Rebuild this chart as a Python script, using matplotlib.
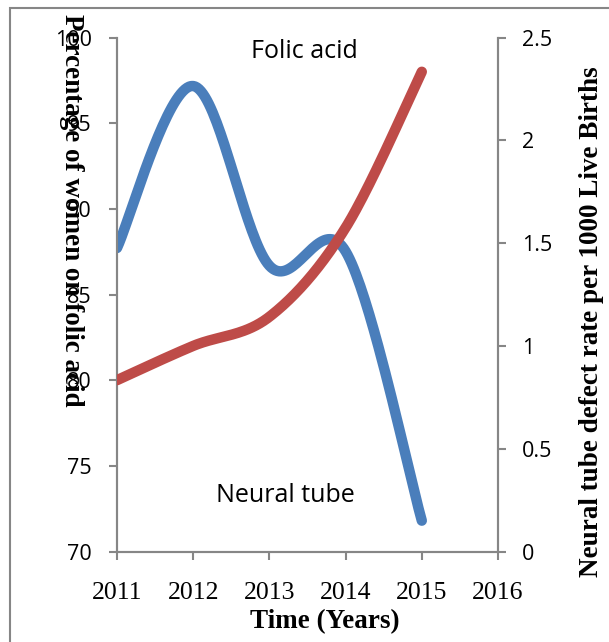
import numpy as np
import matplotlib
matplotlib.use("Agg")
import matplotlib.pyplot as plt
from matplotlib.patches import Rectangle

years = [2011, 2012, 2013, 2014, 2015]
folic_pct = [80, 82, 83.7, 88.9, 98]
ntd_rate = [1.476, 2.264, 1.39, 1.46, 0.15]
x_ticks = [2011, 2012, 2013, 2014, 2015, 2016]
left_ticks = [70, 75, 80, 85, 90, 95, 100]
right_ticks = [0, 0.5, 1, 1.5, 2, 2.5]


def smooth(xs, ys, n=40):
    """Excel-style smoothed line: cubic Bezier with Catmull-Rom control points."""
    xs = np.asarray(xs, float)
    ys = np.asarray(ys, float)
    P = np.column_stack([xs, ys])
    out = []
    for i in range(len(P) - 1):
        p0 = P[i - 1] if i > 0 else P[i]
        p1 = P[i]
        p2 = P[i + 1]
        p3 = P[i + 2] if i + 2 < len(P) else P[i + 1]
        c1 = p1 + (p2 - p0) / 6.0
        c2 = p2 - (p3 - p1) / 6.0
        t = np.linspace(0, 1, n)[:, None]
        seg = ((1 - t) ** 3) * p1 + 3 * ((1 - t) ** 2) * t * c1 + 3 * (1 - t) * t ** 2 * c2 + t ** 3 * p2
        out.append(seg if i == 0 else seg[1:])
    out = np.vstack(out)
    return out[:, 0], out[:, 1]


W, H = 609, 642
fig = plt.figure(figsize=(W / 100, H / 100), dpi=100)
L, R, T, B = 117, 498, 37.5, 551.5
ax = fig.add_axes([L / W, 1 - B / H, (R - L) / W, (B - T) / H])
ax2 = ax.twinx()

gray = "#868686"
blue = "#4A7EBB"
red = "#BE4B48"

sx, sy = smooth(years, folic_pct)
ax.plot(sx, sy, color=red, lw=7.5, solid_capstyle="round", zorder=3)
bx, by = smooth(years, ntd_rate)
ax2.plot(bx, by, color=blue, lw=7.5, solid_capstyle="round", zorder=4)

ax.set_xlim(2011, 2016)
ax.set_ylim(70, 100)
ax2.set_ylim(0, 2.5)
ax.set_xticks(x_ticks)
ax.set_xticklabels([str(v) for v in x_ticks], fontfamily="Liberation Serif", fontsize=18.5)
ax.set_yticks(left_ticks)
ax.set_yticklabels([str(v) for v in left_ticks], fontfamily="Open Sans", fontsize=15.5)
ax2.set_yticks(right_ticks)
ax2.set_yticklabels([("%g" % v) for v in right_ticks], fontfamily="Open Sans", fontsize=15.5)

for a in (ax, ax2):
    a.spines["top"].set_visible(False)
    for s in ("left", "right", "bottom"):
        a.spines[s].set_color(gray)
        a.spines[s].set_linewidth(1.5)
    a.tick_params(color=gray, width=1.5, length=6, direction="out")
ax.tick_params(axis="x", pad=16)
ax.tick_params(axis="y", pad=12)
ax2.tick_params(axis="y", pad=11.5)
ax.set_zorder(ax2.get_zorder() + 1)
ax.patch.set_visible(False)

fig.text(325 / W, 1 - 622 / H, "Time (Years)", ha="center", va="center",
         fontfamily="Liberation Serif", fontweight="bold", fontsize=19.5)

fig.text(71 / W, 1 - 210.5 / H, "Percentage of women on folic acid", rotation=-90,
         ha="center", va="center", fontfamily="Liberation Serif", fontweight="bold", fontsize=19.5)
fig.text(592 / W, 1 - 322 / H, "Neural tube defect rate per 1000 Live Births", rotation=90,
         ha="center", va="center", fontfamily="Liberation Serif", fontweight="bold", fontsize=19.5)

fig.text(304 / W, 1 - 52 / H, "Folic acid", ha="center", va="center", fontfamily="Open Sans", fontsize=18)
fig.text(285 / W, 1 - 495 / H, "Neural tube", ha="center", va="center", fontfamily="Open Sans", fontsize=18)

fig.patches.append(Rectangle((10 / W, -0.1), 1.2, 1 - 7.5 / H + 0.1, transform=fig.transFigure,
                             fill=False, edgecolor=gray, lw=1.5))

fig.savefig("out.png", dpi=100)
